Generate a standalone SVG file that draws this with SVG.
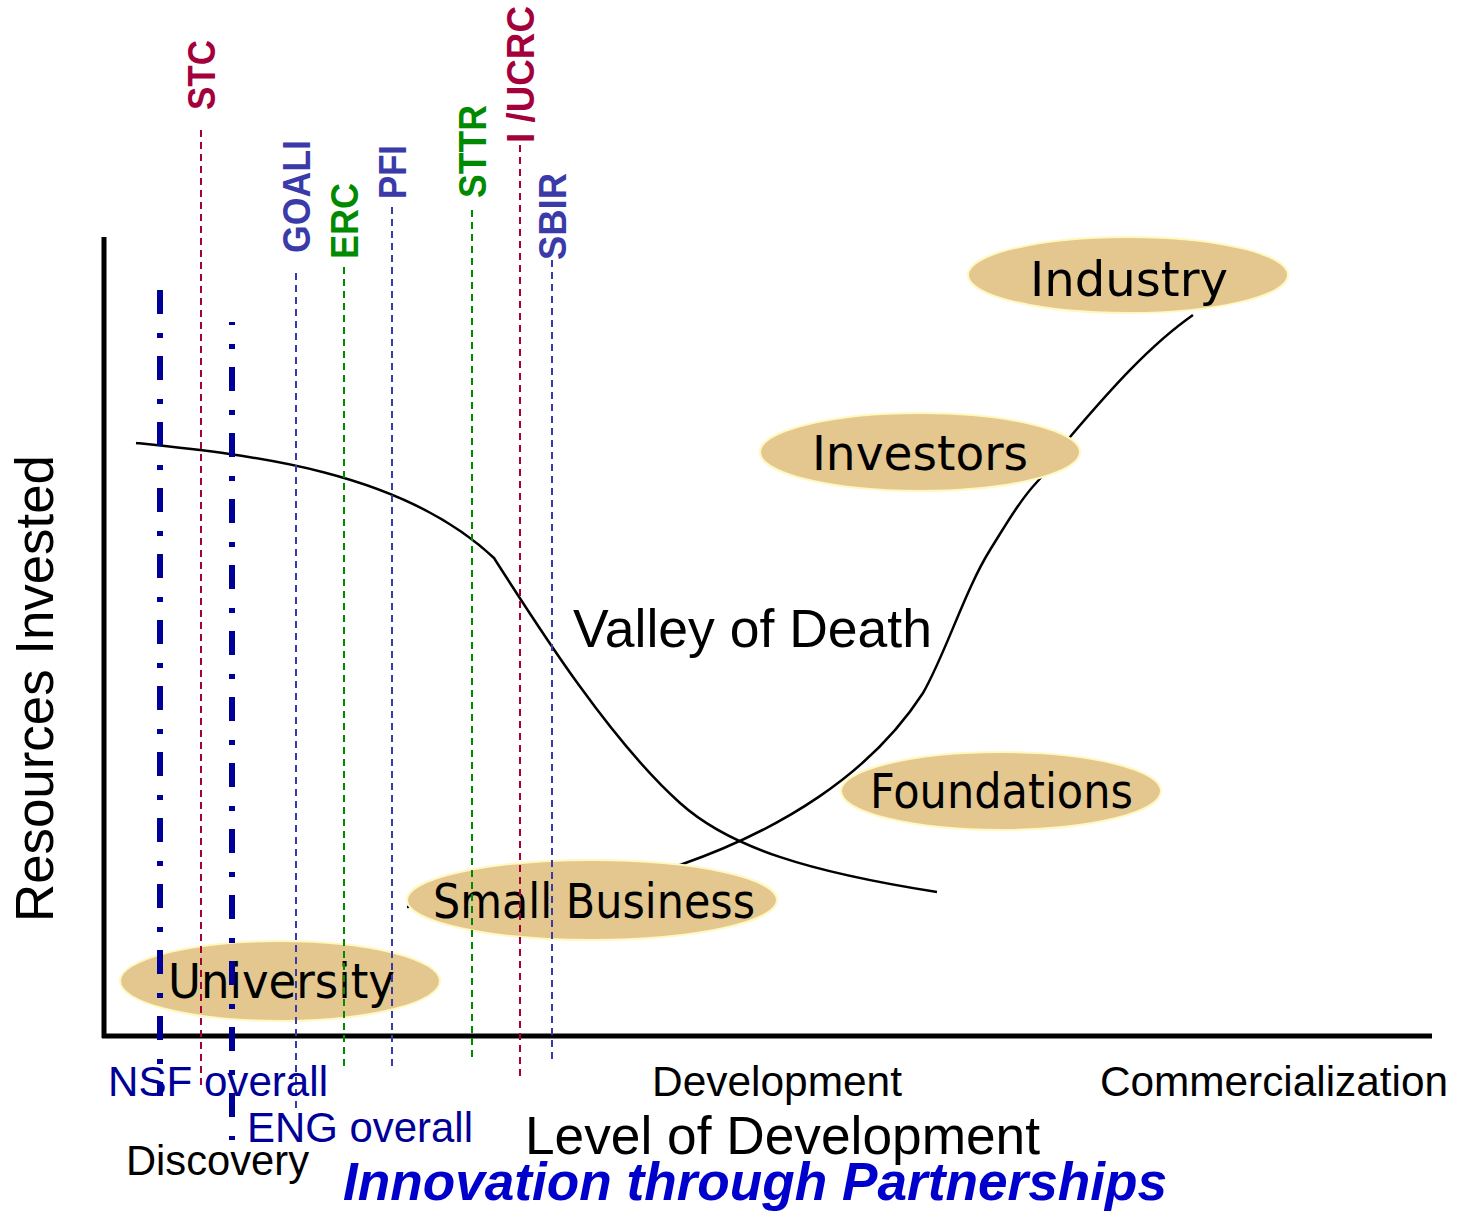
<svg xmlns="http://www.w3.org/2000/svg" width="1458" height="1211" viewBox="0 0 1458 1211">
<style>
.bg{fill:#ffffff}
.axis{stroke:#000;stroke-width:5;fill:none}
.curve{stroke:#000;stroke-width:2.5;fill:none}
.ell{fill:#e3c78f;stroke:#fff8c0;stroke-width:2}
.etxt{font-family:"Comic Sans MS","DejaVu Sans",sans-serif;font-size:48px;fill:#000;text-anchor:start}
.prog{font-family:"Liberation Sans",Arial,sans-serif;font-weight:bold;font-size:38px}
.lab{font-family:"Liberation Sans",Arial,sans-serif;font-size:42px}
.big{font-family:"Liberation Sans",Arial,sans-serif;font-size:53px}
.dash{stroke-width:2;stroke-dasharray:7 5;fill:none}
.dd{stroke:#000099;stroke-width:6;stroke-dasharray:24 19 5 18;fill:none}
.red{stroke:#a3003c}
.blu{stroke:#3a3aa8}
.grn{stroke:#008a00}
</style>
<rect class="bg" x="0" y="0" width="1458" height="1211"/>

<g id="axes">
<line class="axis" x1="104" y1="237" x2="104" y2="1038"/>
<line class="axis" x1="102" y1="1036" x2="1432" y2="1036"/>
</g>

<g id="connectors">
<path class="curve" d="M136 443 C250 455 400 470 494 558 C540 630 610 740 680 803 C730 848 810 872 937 892"/>
<path class="curve" d="M407 907 C500 900 600 892 680 865 C780 830 870 775 923 693 C945 655 965 590 990 550 C1005 526 1020 500 1037 482 C1050 468 1060 450 1070 437 C1110 390 1150 345 1193 315"/>
</g>

<g id="node-industry">
<ellipse class="ell" cx="1128" cy="275" rx="160" ry="38"/>
<text class="etxt" x="1030" y="296" textLength="198" lengthAdjust="spacingAndGlyphs">Industry</text>
</g>
<g id="node-investors">
<ellipse class="ell" cx="920" cy="452" rx="160" ry="39"/>
<text class="etxt" x="812" y="470" textLength="216" lengthAdjust="spacingAndGlyphs">Investors</text>
</g>
<g id="node-foundations">
<ellipse class="ell" cx="1001" cy="791" rx="160" ry="39"/>
<text class="etxt" x="870" y="808" textLength="263" lengthAdjust="spacingAndGlyphs">Foundations</text>
</g>
<g id="node-small-business">
<ellipse class="ell" cx="592" cy="900" rx="185" ry="40"/>
<text class="etxt" x="433" y="918" textLength="322" lengthAdjust="spacingAndGlyphs">Small Business</text>
</g>
<g id="node-university">
<ellipse class="ell" cx="280" cy="981" rx="160" ry="40"/>
<text class="etxt" x="168" y="998" textLength="227" lengthAdjust="spacingAndGlyphs">University</text>
</g>

<g id="programs">
<line class="dd" x1="160" y1="290" x2="160" y2="1096"/>
<line class="dd" x1="232" y1="322" x2="232" y2="1140" style="stroke-dashoffset:-45"/>
<line class="dash red" x1="201" y1="130" x2="201" y2="1090"/>
<line class="dash blu" x1="296" y1="273" x2="296" y2="1108"/>
<line class="dash grn" x1="344" y1="267" x2="344" y2="1068"/>
<line class="dash blu" x1="392" y1="207" x2="392" y2="1068"/>
<line class="dash grn" x1="472" y1="210" x2="472" y2="1058"/>
<line class="dash red" x1="520" y1="145" x2="520" y2="1078"/>
<line class="dash blu" x1="552" y1="260" x2="552" y2="1062"/>

<text class="prog" fill="#a3003c" transform="translate(215 110) rotate(-90)" textLength="70" lengthAdjust="spacingAndGlyphs">STC</text>
<text class="prog" fill="#3a3aa8" transform="translate(310 253) rotate(-90)" textLength="113" lengthAdjust="spacingAndGlyphs">GOALI</text>
<text class="prog" fill="#008a00" transform="translate(358 259) rotate(-90)" textLength="76" lengthAdjust="spacingAndGlyphs">ERC</text>
<text class="prog" fill="#3a3aa8" transform="translate(406 199) rotate(-90)" textLength="54" lengthAdjust="spacingAndGlyphs">PFI</text>
<text class="prog" fill="#008a00" transform="translate(486 198) rotate(-90)" textLength="93" lengthAdjust="spacingAndGlyphs">STTR</text>
<text class="prog" fill="#a3003c" transform="translate(534 143) rotate(-90)" textLength="137" lengthAdjust="spacingAndGlyphs">I /UCRC</text>
<text class="prog" fill="#3a3aa8" transform="translate(566 260) rotate(-90)" textLength="87" lengthAdjust="spacingAndGlyphs">SBIR</text>
</g>

<g id="labels">
<text class="big" fill="#000" transform="translate(53 922) rotate(-90)" textLength="467" lengthAdjust="spacingAndGlyphs">Resources Invested</text>
<text class="big" fill="#000" x="573" y="647" textLength="359" lengthAdjust="spacingAndGlyphs">Valley of Death</text>
<text class="lab" fill="#000099" x="108" y="1096" textLength="220" lengthAdjust="spacingAndGlyphs">NSF overall</text>
<text class="lab" fill="#000099" x="247" y="1142" textLength="226" lengthAdjust="spacingAndGlyphs">ENG overall</text>
<text class="lab" fill="#000" x="126" y="1175" textLength="183" lengthAdjust="spacingAndGlyphs">Discovery</text>
<text class="lab" fill="#000" x="652" y="1096" textLength="250" lengthAdjust="spacingAndGlyphs">Development</text>
<text class="lab" fill="#000" x="1100" y="1096" textLength="348" lengthAdjust="spacingAndGlyphs">Commercialization</text>
<text class="big" fill="#000" x="525" y="1154" textLength="515" lengthAdjust="spacingAndGlyphs">Level of Development</text>
<text class="big" fill="#0000cc" font-weight="bold" font-style="italic" x="343" y="1200" textLength="824" lengthAdjust="spacingAndGlyphs">Innovation through Partnerships</text>
</g>
</svg>
